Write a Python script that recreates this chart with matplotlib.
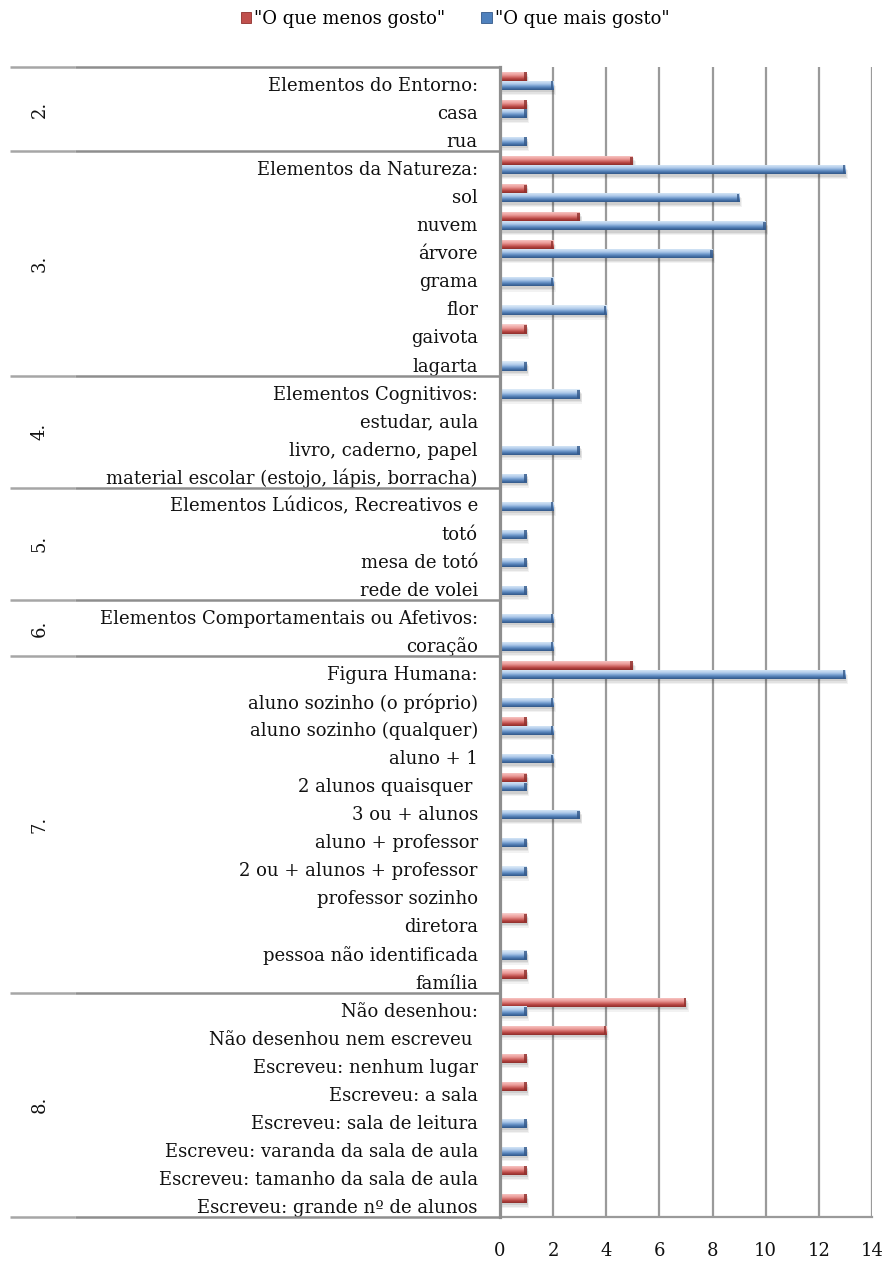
import numpy as np
import matplotlib
matplotlib.use("Agg")
import matplotlib.pyplot as plt
from matplotlib.patches import Patch
from matplotlib.colors import to_rgba
from matplotlib.transforms import blended_transform_factory, ScaledTranslation

# ---- data -------------------------------------------------------------
groups = ["2.", "3.", "4.", "5.", "6.", "7.", "8."]
group_sizes = [3, 8, 4, 4, 2, 12, 8]

categories = [
    "Elementos do Entorno:", "casa", "rua",
    "Elementos da Natureza:", "sol", "nuvem", "árvore", "grama", "flor",
    "gaivota", "lagarta",
    "Elementos Cognitivos:", "estudar, aula", "livro, caderno, papel",
    "material escolar (estojo, lápis, borracha)",
    "Elementos Lúdicos, Recreativos e", "totó", "mesa de totó", "rede de volei",
    "Elementos Comportamentais ou Afetivos:", "coração",
    "Figura Humana:", "aluno sozinho (o próprio)", "aluno sozinho (qualquer)",
    "aluno + 1", "2 alunos quaisquer ", "3 ou + alunos", "aluno + professor",
    "2 ou + alunos + professor", "professor sozinho", "diretora",
    "pessoa não identificada", "família",
    "Não desenhou:", "Não desenhou nem escreveu ", "Escreveu: nenhum lugar",
    "Escreveu: a sala", "Escreveu: sala de leitura",
    "Escreveu: varanda da sala de aula", "Escreveu: tamanho da sala de aula",
    "Escreveu: grande nº de alunos",
]

menos_gosto = [1, 1, 0,
               5, 1, 3, 2, 0, 0, 1, 0,
               0, 0, 0, 0,
               0, 0, 0, 0,
               0, 0,
               5, 0, 1, 0, 1, 0, 0, 0, 0, 1, 0, 1,
               7, 4, 1, 1, 0, 0, 1, 1]

mais_gosto = [2, 1, 1,
              13, 9, 10, 8, 2, 4, 0, 1,
              3, 0, 3, 1,
              2, 1, 1, 1,
              2, 2,
              13, 2, 2, 2, 1, 3, 1, 1, 0, 0, 1, 0,
              1, 0, 0, 0, 1, 1, 0, 0]

series_labels = ['"O que menos gosto"', '"O que mais gosto"']
x_ticks = [0, 2, 4, 6, 8, 10, 12, 14]

# ---- style ------------------------------------------------------------
W, H = 887, 1265
DPI = 100
SERIF = ["DejaVu Serif"]
TEXT = "#111111"
LINE = "#8e8e8e"
LABEL_SIZE = 13

red_ramp = ["#f8d2d0", "#f3b3b1", "#ea9a97", "#d26b68", "#b3413e", "#8f302d"]
blue_ramp = ["#deebf8", "#c6dbf2", "#a9c6e8", "#739cce", "#4a76ad", "#34598a"]


def ramp_image(colors, n=24):
    """Vertical RGBA gradient running through the given colours."""
    rgba = np.array([to_rgba(c) for c in colors])
    pos = np.linspace(0, 1, len(colors))
    t = np.linspace(0, 1, n)
    img = np.stack([np.interp(t, pos, rgba[:, k]) for k in range(4)], axis=1)
    return img[:, None, :]


fig = plt.figure(figsize=(W / DPI, H / DPI), dpi=DPI)
ax = fig.add_axes([500 / W, 1 - 1217 / H, 372 / W, 1150 / H])

n = len(categories)
y = np.arange(n)
bar_h = 0.33
offset = 0.16


def draw_series(values, ypos, ramp):
    bars = ax.barh(ypos, values, height=bar_h, color="none", lw=0, zorder=4)
    img = ramp_image(ramp)
    for rect, v in zip(bars, values):
        if v <= 0:
            continue
        yc = rect.get_y() + bar_h / 2
        # soft drop shadow
        for k, a in enumerate([0.11, 0.08, 0.06]):
            dy = 0.08 + 0.05 * k
            ax.barh(yc + dy, v + 0.04 + 0.03 * k, height=bar_h,
                    color="#303030", alpha=a, lw=0, zorder=2)
        im = ax.imshow(img, extent=(0, v, yc + bar_h / 2, yc - bar_h / 2),
                       origin="upper", aspect="auto", interpolation="bilinear",
                       zorder=4)
        im.set_clip_path(rect)
        # darker cap at the end of the bar
        ax.barh(yc, 0.09, left=v - 0.09, height=bar_h * 0.9,
                color=ramp[-1], alpha=0.8, lw=0, zorder=5)
    return bars


draw_series(menos_gosto, y - offset, red_ramp)
draw_series(mais_gosto, y + offset, blue_ramp)

ax.set_xlim(0, 14)
ax.set_ylim(n - 0.5, -0.5)

# grid and frame
ax.set_xticks(x_ticks)
ax.xaxis.grid(True, color="#9a9a9a", lw=1.6, zorder=1)
ax.set_axisbelow(True)
for s in ("top", "right"):
    ax.spines[s].set_visible(False)
ax.spines["left"].set_color(LINE)
ax.spines["left"].set_linewidth(2.3)
ax.spines["left"].set_zorder(6)
ax.spines["bottom"].set_color("#9a9a9a")
ax.spines["bottom"].set_linewidth(1.6)

ax.set_yticks(y)
ax.set_yticklabels(categories, fontsize=LABEL_SIZE, family=SERIF, color=TEXT)
ax.tick_params(axis="y", length=0, pad=16)
# sit the category names slightly below the middle of each row
shift = ScaledTranslation(0, -3 / DPI, fig.dpi_scale_trans)
for lab in ax.get_yticklabels():
    lab.set_transform(lab.get_transform() + shift)
ax.set_xticklabels([str(t) for t in x_ticks], fontsize=LABEL_SIZE,
                   family=SERIF, color=TEXT)
ax.tick_params(axis="x", length=0, pad=18)

# left-hand table: group separators and group numbers
tr = blended_transform_factory(fig.transFigure, ax.transData)
edges = np.concatenate([[0], np.cumsum(group_sizes)]) - 0.5
for e in edges:
    ax.plot([10 / W, 75 / W], [e, e], color="#a6a6a6", lw=1.8,
            transform=tr, clip_on=False, zorder=3, solid_capstyle="butt")
    ax.plot([75 / W, 500 / W], [e, e], color=LINE, lw=1.8,
            transform=tr, clip_on=False, zorder=3, solid_capstyle="butt")
for g, a, b in zip(groups, edges[:-1], edges[1:]):
    ax.text(40 / W, (a + b) / 2, g, transform=tr, rotation=90,
            ha="center", va="center", fontsize=LABEL_SIZE, family=SERIF,
            color=TEXT)

# legend
handles = [Patch(facecolor="#c0504d", edgecolor="#8f302d", lw=0.6),
           Patch(facecolor="#4f81bd", edgecolor="#34598a", lw=0.6)]
fig.legend(handles, series_labels, loc="center",
           bbox_to_anchor=(0.513, 1 - 19 / H),
           ncol=2, frameon=False, handlelength=0.6, handleheight=0.6,
           handletextpad=0.15, columnspacing=2.0,
           prop={"family": SERIF, "size": 13})

fig.savefig("out.png", dpi=DPI)
